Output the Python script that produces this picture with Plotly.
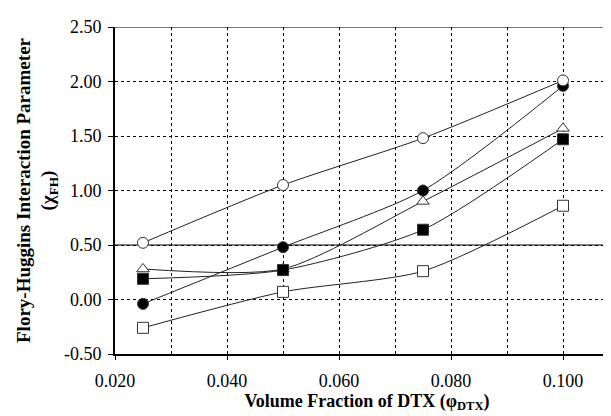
import plotly.graph_objects as go

x_vals = [0.025, 0.050, 0.075, 0.100]
open_circle = [0.52, 1.05, 1.48, 2.01]
filled_circle = [-0.04, 0.48, 1.00, 1.96]
open_triangle = [0.28, 0.28, 0.90, 1.57]
filled_square = [0.19, 0.27, 0.64, 1.47]
open_square = [-0.26, 0.07, 0.26, 0.86]

y_tickvals = [-0.5, 0.0, 0.5, 1.0, 1.5, 2.0, 2.5]
y_ticktext = ["-0.50", "0.00", "0.50", "1.00", "1.50", "2.00", "2.50"]

series = [
    ("open triangle", open_triangle, "triangle-up", "white"),
    ("filled square", filled_square, "square", "black"),
    ("open square", open_square, "square", "white"),
    ("filled circle", filled_circle, "circle", "black"),
    ("open circle", open_circle, "circle", "white"),
]

fig = go.Figure()
for name, ys, sym, fill in series:
    fig.add_trace(go.Scatter(
        x=x_vals, y=ys, mode="lines+markers", name=name,
        line=dict(color="#222222", width=1, shape="spline", smoothing=0.7),
        marker=dict(symbol=sym, size=11, color=fill,
                    line=dict(color="#333333", width=1)),
        showlegend=False,
    ))

font_family = "Liberation Serif"
fig.update_layout(
    width=611, height=416,
    margin=dict(l=107, r=0, t=19, b=70),
    plot_bgcolor="white", paper_bgcolor="white",
    font=dict(family=font_family, size=18, color="black"),
    xaxis=dict(
        range=[0.020, 0.110], dtick=0.02, tick0=0.02, tickformat=".3f",
        tickfont=dict(size=18), automargin=False,
        showgrid=True, gridcolor="black", griddash="dot", gridwidth=1,
        minor=dict(dtick=0.01, showgrid=True, gridcolor="black", griddash="dot", gridwidth=1),
        showline=True, linecolor="black", linewidth=2,
        ticks="outside", ticklen=4, tickcolor="black",
        ticklabelstandoff=5,
        zeroline=False,
        title=dict(text="<b>Volume Fraction of DTX (φ<sub>DTX</sub>)</b>", font=dict(size=18), standoff=0),
    ),
    yaxis=dict(
        range=[-0.5, 2.5], tickvals=y_tickvals, ticktext=y_ticktext,
        tickfont=dict(size=18), automargin=False,
        showgrid=True, gridcolor="black", griddash="dot", gridwidth=1,
        showline=True, linecolor="black", linewidth=2,
        ticks="outside", ticklen=5, tickcolor="black",
        ticklabelstandoff=3,
        zeroline=False,
        title=dict(text="<b>Flory-Huggins Interaction Parameter<br>(χ<sub>FH</sub>)</b>", font=dict(size=19), standoff=4),
    ),
)
fig.add_shape(type="line", xref="paper", yref="y", x0=0, x1=1, y0=0.5, y1=0.5,
              line=dict(color="#555555", width=1.5), layer="between")
fig.add_shape(type="line", xref="paper", yref="y", x0=0, x1=1, y0=2.5, y1=2.5,
              line=dict(color="#777777", width=2), layer="between")

fig.write_html("out.html")
